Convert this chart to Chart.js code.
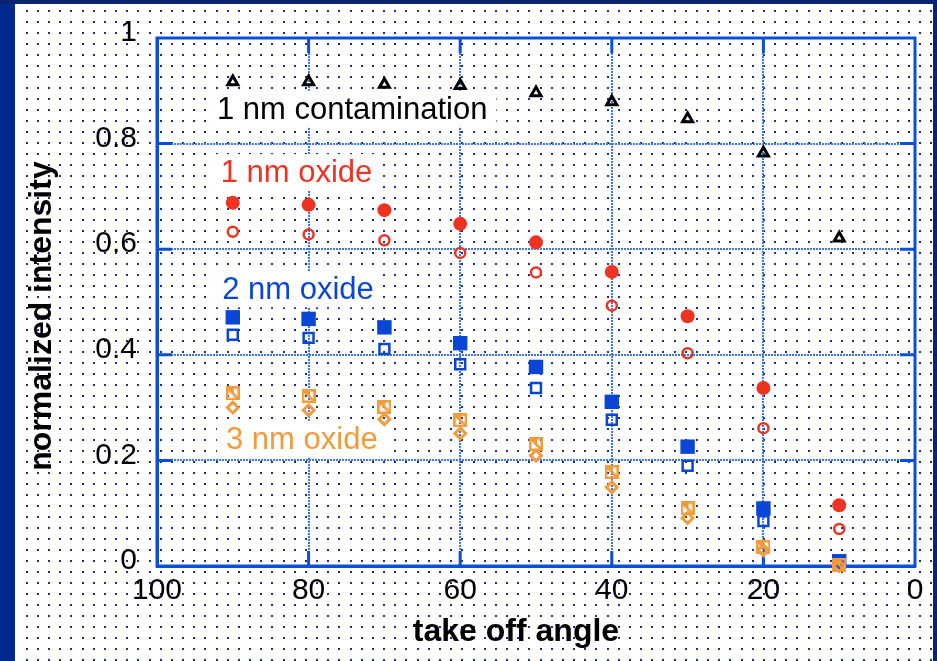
<!DOCTYPE html>
<html>
<head>
<meta charset="utf-8">
<script src="https://cdn.jsdelivr.net/npm/chart.js@4.4.1/dist/chart.umd.min.js"></script>
<style>
html, body { margin: 0; padding: 0; background: #fff; }
canvas { display: block; }
</style>
</head>
<body>
<canvas id="angleChart" width="937" height="661"></canvas>
<script>
// take off angle (deg) and normalized intensities
const angles = [90, 80, 70, 60, 50, 40, 30, 20, 10];

const contamination = [0.917, 0.917, 0.912, 0.910, 0.896, 0.879, 0.847, 0.782, 0.621];
const oxide1Solid   = [0.688, 0.684, 0.674, 0.648, 0.613, 0.557, 0.473, 0.337, 0.115];
const oxide1Open    = [0.633, 0.628, 0.617, 0.593, 0.556, 0.493, 0.403, 0.261, 0.070];
const oxide2Solid   = [0.471, 0.468, 0.452, 0.422, 0.377, 0.311, 0.226, 0.109, 0.009];
const oxide2Open    = [0.438, 0.432, 0.411, 0.382, 0.337, 0.277, 0.190, 0.085, 0.005];
const oxide3Square  = [0.327, 0.322, 0.301, 0.276, 0.231, 0.178, 0.109, 0.036, 0.002];
const oxide3Diamond = [0.300, 0.295, 0.278, 0.251, 0.209, 0.149, 0.091, 0.030, 0.000];

const xTicks = [100, 80, 60, 40, 20, 0];
const yTicks = [0, 0.2, 0.4, 0.6, 0.8, 1];

const xTitle = "take off angle";
const yTitle = "normalized intensity";

// in-plot labels
const labelText  = ["1 nm contamination", "1 nm oxide", "2 nm oxide", "3 nm oxide"];
const labelColor = ["#000000", "#ee3322", "#0a46d6", "#f39a3a"];
const labelAt    = [[92.1, 0.847], [91.6, 0.727], [91.4, 0.505], [90.9, 0.222]];

const RED = "#ee3322", BLUE = "#0a46d6", ORANGE = "#f39a3a";
const AXIS = "#0a4fd8";
const FONT = "'Liberation Sans', Arial, Helvetica, sans-serif";

function pts(ys) {
    return angles.map((a, i) => ({x: a, y: ys[i]}));
}

// open square with a slash, the 3 nm marker
function slashedSquare(color) {
    const c = document.createElement("canvas");
    c.width = 14; c.height = 14;
    const g = c.getContext("2d");
    g.strokeStyle = color;
    g.fillStyle = color;
    g.lineWidth = 2.5;
    g.strokeRect(1.25, 1.25, 11.5, 11.5);
    g.beginPath();
    g.moveTo(1.5, 1.5);
    g.lineTo(12.5, 12.5);
    g.stroke();
    g.beginPath();
    g.moveTo(2, 2);
    g.lineTo(8, 2);
    g.lineTo(8, 8);
    g.closePath();
    g.fill();
    return c;
}

const backdrop = {
    id: "backdrop",
    beforeDraw(chart) {
        const ctx = chart.ctx;
        ctx.save();
        ctx.fillStyle = "#0a2470";
        ctx.fillRect(0, 0, 937, 661);
        ctx.fillStyle = "#002a90";
        ctx.fillRect(0, 4, 15, 657);
        ctx.fillStyle = "#ffffff";
        ctx.fillRect(15, 4, 918, 657);
        ctx.fillStyle = "#1b2f86";
        for (let y = 11; y < 661; y += 11) {
            for (let x = 26.7; x < 933; x += 11.17) {
                ctx.fillRect(Math.round(x) - 1, Math.round(y) - 1, 2, 2);
            }
        }
        ctx.restore();
    }
};

const frame = {
    id: "frame",
    beforeDatasetsDraw(chart) {
        const ctx = chart.ctx;
        const a = chart.chartArea;
        const xs = chart.scales.x, ys = chart.scales.y;
        ctx.save();
        ctx.strokeStyle = AXIS;
        ctx.lineWidth = 3;
        ctx.strokeRect(a.left, a.top, a.right - a.left, a.bottom - a.top);
        ctx.beginPath();
        yTicks.slice(1, -1).forEach(v => {
            const p = ys.getPixelForValue(v);
            ctx.moveTo(a.left, p); ctx.lineTo(a.left + 15, p);
            ctx.moveTo(a.right - 15, p); ctx.lineTo(a.right, p);
        });
        xTicks.slice(1, -1).forEach(v => {
            const p = xs.getPixelForValue(v);
            ctx.moveTo(p, a.top); ctx.lineTo(p, a.top + 15);
            ctx.moveTo(p, a.bottom - 15); ctx.lineTo(p, a.bottom);
        });
        ctx.stroke();

        // series labels on white boxes
        ctx.font = "31px " + FONT;
        ctx.textBaseline = "alphabetic";
        ctx.textAlign = "left";
        labelText.forEach((t, i) => {
            const x = xs.getPixelForValue(labelAt[i][0]);
            const y = ys.getPixelForValue(labelAt[i][1]);
            const w = ctx.measureText(t).width;
            ctx.fillStyle = "#ffffff";
            ctx.fillRect(x - 9, y - 28, w + 18, 36);
            ctx.fillStyle = labelColor[i];
            ctx.fillText(t, x, y);
        });

        // axis titles
        ctx.fillStyle = "#000";
        ctx.font = "bold 32px " + FONT;
        ctx.textAlign = "center";
        ctx.fillText(xTitle, 516, 641);
        ctx.translate(51, 316);
        ctx.rotate(-Math.PI / 2);
        ctx.fillText(yTitle, 0, 0);
        ctx.restore();
    }
};

const n = 7;
const datasets = [
    {label: "1 nm contamination", data: pts(contamination), pointStyle: "triangle",
     pointRadius: 5.8, pointBorderWidth: 3, pointBorderColor: "#000", pointBackgroundColor: "rgba(0,0,0,0)"},
    {label: "1 nm oxide solid", data: pts(oxide1Solid), pointStyle: "circle",
     pointRadius: 7, pointBorderWidth: 0, pointBackgroundColor: RED},
    {label: "1 nm oxide open", data: pts(oxide1Open), pointStyle: "circle",
     pointRadius: 5, pointBorderWidth: 2.5, pointBorderColor: RED, pointBackgroundColor: "rgba(0,0,0,0)"},
    {label: "2 nm oxide solid", data: pts(oxide2Solid), pointStyle: "rect",
     pointRadius: 10.2, pointBorderWidth: 0, pointBackgroundColor: BLUE},
    {label: "2 nm oxide open", data: pts(oxide2Open), pointStyle: "rect",
     pointRadius: 7, pointBorderWidth: 2.5, pointBorderColor: BLUE, pointBackgroundColor: "rgba(0,0,0,0)"},
    {label: "3 nm oxide square", data: pts(oxide3Square), pointStyle: slashedSquare(ORANGE),
     pointRadius: 7},
    {label: "3 nm oxide diamond", data: pts(oxide3Diamond), pointStyle: "rectRot",
     pointRadius: 5.4, pointBorderWidth: 3, pointBorderColor: ORANGE, pointBackgroundColor: "rgba(0,0,0,0)"}
];
datasets.forEach((d, i) => {
    d.showLine = false;
    d.clip = false;
    d.order = n - 1 - i;
});

new Chart("angleChart", {
    type: "scatter",
    data: {datasets: datasets},
    plugins: [backdrop, frame],
    options: {
        responsive: false,
        animation: false,
        events: [],
        layout: {padding: {left: 15, top: 35, right: 22, bottom: 0}},
        plugins: {
            legend: {display: false},
            tooltip: {enabled: false}
        },
        scales: {
            x: {
                type: "linear",
                reverse: true,
                min: 0,
                max: 100,
                afterBuildTicks: s => { s.ticks = xTicks.map(v => ({value: v})); },
                afterFit: s => { s.height = 95; },
                grid: {color: "#3d78e6", lineWidth: 2, drawTicks: false},
                border: {display: true, color: AXIS, width: 3, dash: [2, 1]},
                ticks: {color: "#000", padding: 7, maxRotation: 0,
                        font: {family: FONT, size: 30}}
            },
            y: {
                type: "linear",
                min: 0,
                max: 1,
                afterBuildTicks: s => { s.ticks = yTicks.map(v => ({value: v})); },
                afterFit: s => { s.width = 142; },
                grid: {color: "#3d78e6", lineWidth: 2, drawTicks: false},
                border: {display: true, color: AXIS, width: 3, dash: [2, 1]},
                ticks: {color: "#000", padding: 20, labelOffset: -5,
                        callback: v => String(Math.round(v * 10) / 10),
                        font: {family: FONT, size: 30}}
            }
        }
    }
});
</script>
</body>
</html>
